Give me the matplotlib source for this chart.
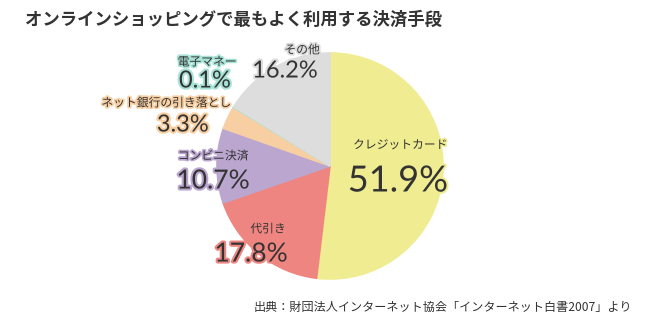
import matplotlib.pyplot as plt
import matplotlib.patheffects as pe

plt.rcParams['font.family'] = ['Noto Sans CJK JP', 'DejaVu Sans']

labels = ['クレジットカード', '代引き', 'コンビニ決済', 'ネット銀行の引き落とし', '電子マネー', 'その他']
shares = [51.9, 17.8, 10.7, 3.3, 0.1, 16.2]
colors = ['#efec91', '#ef8580', '#baa6cf', '#f8cfa2', '#a6e2d6', '#dddddd']

# label anchor points in pixel space (x, y from top)
name_pos = [(400, 145), (268, 229), (213, 156), (166, 103), (207, 62), (302, 50)]
pct_pos = [(398, 181), (251, 254), (213, 181), (183, 125), (205, 81), (285, 71)]
pct_size = [26, 19, 19, 17, 17, 17]

W, H = 650, 333
fig = plt.figure(figsize=(6.5, 3.33), dpi=100)
ax = fig.add_axes([0, 0, 1, 1])

wedges, _ = ax.pie(shares, colors=colors, startangle=90, counterclock=False,
                   center=(330, H - 166), radius=113, frame=True)
for w, c in zip(wedges, colors):
    w.set_edgecolor(c)
    w.set_linewidth(1.2)
ax.set_xlim(0, W)
ax.set_ylim(0, H)
ax.set_aspect('equal')
ax.axis('off')

for lab, v, c, (nx, ny), (px, py), fs in zip(labels, shares, colors, name_pos, pct_pos, pct_size):
    ax.text(nx, H - ny, lab, fontsize=8.5, color='#333333', ha='center', va='center',
            path_effects=[pe.withStroke(linewidth=2.5, foreground=c)])
    ax.text(px, H - py, f'{v:.1f}%', fontsize=fs, color='#333333', ha='center', va='center',
            family=['Lato', 'DejaVu Sans'],
            path_effects=[pe.withStroke(linewidth=3, foreground=c)])

ax.text(25, H - 20, 'オンラインショッピングで最もよく利用する決済手段', fontsize=12.5,
        fontweight='bold', color='#333333', ha='left', va='center')
ax.text(632, H - 307, '出典：財団法人インターネット協会「インターネット白書2007」より',
        fontsize=8.7, color='#333333', ha='right', va='center')

fig.savefig('out.png', dpi=100, facecolor='white')
